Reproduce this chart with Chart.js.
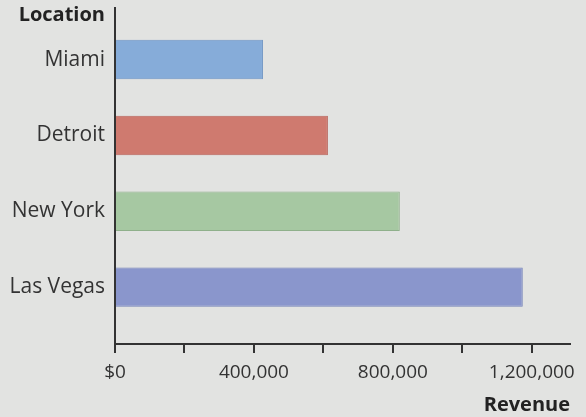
<!DOCTYPE html>
<html>
<head>
<meta charset="utf-8">
<script src="https://cdn.jsdelivr.net/npm/chart.js@4"></script>
<style>
  html, body { margin: 0; padding: 0; background: #e2e3e1; }
  #wrap { width: 586px; height: 417px; }
</style>
</head>
<body>
<div id="wrap"><canvas id="chart" width="586" height="417"></canvas></div>
<script>
// =======================
// DATA
// =======================
const locations = ['Miami', 'Detroit', 'New York', 'Las Vegas'];
const revenue = [426000, 613000, 820000, 1174000];
const barColors = ['#86acd9', '#cf7a6f', '#a6c8a2', '#8a96cc'];
const borderColors = ['#6f95c4', '#b8655b', '#8fb08b', '#7381b8'];
const xTicks = [0, 200000, 400000, 600000, 800000, 1000000, 1200000];
const labeledTicks = [0, 400000, 800000, 1200000];

const textColor = '#333';
const fontFamily = "'Open Sans', sans-serif";

// "Location" heading over the category labels
const locationTitle = {
  id: 'locationTitle',
  afterDraw(chart) {
    const ctx = chart.ctx;
    ctx.save();
    ctx.font = `bold 20px ${fontFamily}`;
    ctx.fillStyle = '#222';
    ctx.textAlign = 'right';
    ctx.textBaseline = 'middle';
    ctx.fillText('Location', chart.chartArea.left - 10, 15);
    ctx.restore();
  }
};

new Chart(document.getElementById('chart').getContext('2d'), {
  type: 'bar',
  data: {
    datasets: [{
      data: revenue.map((v, i) => ({ x: v, y: i })),
      backgroundColor: barColors,
      borderColor: borderColors,
      borderWidth: 1,
      barPercentage: 0.52,
      categoryPercentage: 1
    }]
  },
  options: {
    indexAxis: 'y',
    responsive: false,
    animation: false,
    layout: { padding: { top: 8, right: 16, bottom: 0, left: 0 } },
    plugins: { legend: { display: false }, tooltip: { enabled: false } },
    scales: {
      x: {
        type: 'linear',
        min: 0,
        max: 1310000,
        border: { display: true, color: textColor, width: 2 },
        grid: { drawOnChartArea: false, tickLength: 9, tickColor: textColor, lineWidth: 2 },
        afterBuildTicks: scale => { scale.ticks = xTicks.map(v => ({ value: v })); },
        afterFit: scale => { scale.paddingLeft = 0; scale.paddingRight = 0; },
        ticks: {
          autoSkip: false,
          maxRotation: 0,
          padding: 8.6,
          color: textColor,
          font: { family: fontFamily, size: 19 },
          callback: v => labeledTicks.includes(v) ? (v === 0 ? '$0' : v.toLocaleString('en-US')) : ''
        },
        title: {
          display: true,
          text: 'Revenue',
          align: 'end',
          color: '#222',
          font: { family: fontFamily, size: 20, weight: 'bold' },
          padding: { top: 0, bottom: 0 }
        }
      },
      y: {
        type: 'linear',
        reverse: true,
        offset: false,
        min: -0.68,
        max: 3.75,
        border: { display: true, color: textColor, width: 2 },
        grid: { display: false, drawTicks: false },
        afterBuildTicks: scale => { scale.ticks = locations.map((_, i) => ({ value: i })); },
        afterFit: scale => { scale.width = 115; scale.paddingTop = 0; scale.paddingBottom = 0; },
        ticks: {
          padding: 10,
          color: textColor,
          font: { family: fontFamily, size: 21 },
          callback: v => locations[v]
        }
      }
    }
  },
  plugins: [locationTitle]
});
</script>
</body>
</html>
